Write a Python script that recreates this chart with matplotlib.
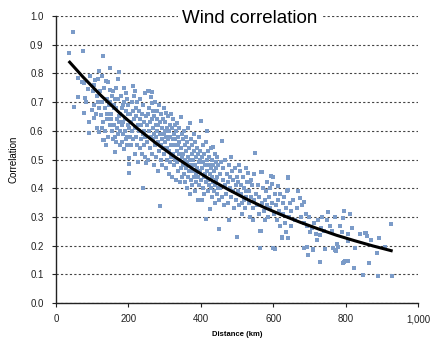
import numpy as np
import matplotlib
matplotlib.use("Agg")
import matplotlib.pyplot as plt
from matplotlib.ticker import FuncFormatter

plt.rcParams['font.family'] = ['Liberation Sans', 'DejaVu Sans']

# Scatter values, split by distance band (km, correlation)
dist_a = [35, 48, 50, 60, 62, 71, 75, 78, 78, 79, 88, 92, 92, 95, 99, 84,
          102, 104, 105, 106, 108, 110, 112, 113, 115, 115, 118, 119, 120, 122, 124, 126, 127, 128,
          129, 130, 131, 132, 133, 135, 136, 138, 138, 140, 141, 142, 144, 145, 147, 148, 149, 149]
corr_a = [.872, .943, .684, .785, .718, .769, .879, .767, .663, .716, .745, .632, .593, .79, .672, .70,
          .74, .69, .643, .76, .777, .66, .72, .61, .78, .701, .68, .595, .81, .74, .655, .609, .70, .79,
          .568, .63, .861, .568, .75, .68, .60, .772, .55, .71, .64, .66, .58, .77, .69, .62, .818, .742]

dist_b = [150, 152, 153, 154, 155, 157, 158, 159, 160, 161, 162, 163, 164, 165, 166, 167, 168, 169,
          170, 171, 172, 173, 174, 175, 176, 177, 178, 179, 180, 181, 182, 183, 184, 185, 186, 187,
          188, 189, 190, 191, 192, 193, 194, 195, 196, 197, 198, 199,
          200, 201, 203, 203, 203, 204, 205, 206, 208, 209, 210, 212, 213, 214, 215, 216, 217, 218,
          219, 220, 221, 222, 224, 225, 226, 227, 228, 230, 231, 232, 233, 234, 236, 237, 238, 239,
          240, 241, 242, 243, 244, 245, 246, 247, 248, 249]
corr_b = [.70, .66, .64, .60, .72, .57, .74, .68, .62, .69, .58, .71, .527, .75, .68, .56, .64, .61,
          .59, .78, .71, .65, .806, .63, .60, .55, .66, .63, .72, .68, .56, .62, .69, .59, .63, .70,
          .75, .535, .60, .64, .67, .73, .57, .58, .71, .55, .62, .66,
          .69, .61, .504, .486, .454, .58, .66, .63, .55, .70, .60, .67, .57, .756, .64, .72, .52, .74,
          .61, .68, .58, .65, .55, .70, .492, .62, .60, .67, .54, .64, .71, .57, .62, .52, .66, .59,
          .69, .402, .55, .63, .60, .73, .51, .58, .65, .489]

dist_c = [251, 252, 253, 254, 255, 256, 257, 258, 259, 260, 262, 263, 264, 264, 265, 266, 267, 268,
          269, 270, 271, 272, 273, 274, 275, 276, 277, 278, 279, 280, 281, 282, 283, 284, 285, 286,
          287, 288, 289, 290, 291, 292, 293, 294, 295, 296, 297, 298, 299, 300,
          301, 302, 303, 304, 305, 306, 307, 308, 309, 310, 311, 312, 313, 314, 315, 316, 317, 318,
          319, 320, 321, 322, 323, 324, 325, 326, 327, 328, 329, 330, 331, 332, 333, 334, 335, 336,
          337, 338, 339, 340, 341, 342, 343, 344, 345, 346, 347, 348, 349, 350]
corr_c = [.62, .56, .74, .66, .50, .74, .60, .68, .54, .63, .717, .58, .736, .696, .52, .64, .57, .61,
          .67, .48, .59, .65, .55, .70, .62, .51, .58, .64, .60, .67, .46, .56, .62, .53, .69, .59,
          .338, .63, .55, .50, .66, .57, .61, .48, .64, .54, .59, .68, .52, .60,
          .56, .63, .47, .663, .58, .54, .61, .50, .65, .57, .45, .60, .53, .62, .49, .58, .66, .55,
          .51, .61, .44, .57, .64, .52, .59, .48, .55, .62, .50, .57, .43, .60, .628, .53, .49, .58,
          .55, .46, .61, .52, .56, .42, .50, .649, .54, .47, .59, .51, .44, .57]

dist_d = [351, 352, 353, 354, 355, 356, 357, 358, 359, 360, 361, 362, 363, 364, 365, 366, 367, 368,
          369, 370, 371, 372, 373, 374, 375, 376, 377, 378, 379, 380, 381, 382, 383, 384, 385, 386,
          387, 388, 389, 390, 391, 392, 393, 394, 395, 396, 397, 398, 399, 400,
          401, 402, 403, 404, 405, 406, 407, 408, 409, 410, 411, 412, 413, 414, 415, 416, 417, 418,
          419, 420, 421, 422, 423, 424, 425, 426, 427, 428, 429, 430, 431, 432, 433, 434, 435, 436,
          437, 438, 439, 440, 441, 442, 443, 444, 445, 446, 447, 448, 449, 450]
corr_d = [.52, .48, .60, .45, .55, .50, .42, .58, .47, .53, .40, .56, .49, .44, .61, .51, .46, .54,
          .38, .626, .50, .43, .57, .48, .52, .41, .55, .46, .50, .59, .44, .53, .39, .48, .56, .45,
          .51, .42, .54, .47, .36, .52, .44, .58, .49, .41, .53, .46, .50, .634,
          .43, .359, .51, .47, .55, .40, .49, .44, .52, .38, .48, .45, .56, .292, .42, .60, .50, .46,
          .39, .53, .43, .48, .41, .51, .326, .45, .54, .40, .47, .37, .50, .44, .42, .545, .48, .39,
          .46, .52, .41, .35, .49, .43, .47, .38, .51, .44, .40, .48, .36, .258]

dist_e = [452, 454, 456, 458, 459, 460, 462, 464, 466, 468, 470, 472, 474, 476, 477, 478, 480, 482,
          483, 484, 486, 488, 490, 492, 494, 496, 498, 499, 500, 501,
          502, 504, 506, 508, 510, 512, 514, 516, 518, 520, 522, 524, 526, 528, 530, 532, 534, 536,
          538, 540, 542, 544, 546, 548, 550, 505, 515, 525, 535, 545]
corr_e = [.45, .40, .49, .37, .564, .43, .47, .34, .41, .50, .38, .45, .42, .35, .289, .48, .40, .44,
          .51, .37, .46, .39, .43, .33, .47, .41, .36, .229, .44, .229,
          .39, .42, .34, .46, .38, .41, .31, .44, .36, .40, .33, .47, .37, .42, .452, .35, .39, .30,
          .43, .37, .41, .33, .45, .36, .524, .48, .35, .39, .42, .29]

dist_f = [552, 555, 558, 560, 562, 564, 564, 565, 566, 568, 570, 572, 574, 576, 578, 580, 582, 584,
          586, 588, 590, 592, 594, 596, 598, 600, 600, 602, 605, 606,
          608, 610, 612, 614, 616, 618, 620, 623, 625, 626, 628, 630, 632, 635, 636, 639, 640, 642,
          642, 642, 644, 646, 648, 650, 655, 660, 665, 669, 673, 678,
          680, 684, 686, 686, 690, 692, 694, 697, 700, 703, 706, 709, 711, 714, 718, 720, 724, 729,
          729, 732]
corr_f = [.38, .34, .41, .31, .37, .251, .193, .458, .251, .457, .35, .40, .32, .36, .29, .39, .34, .42,
          .30, .37, .33, .40, .442, .415, .35, .44, .193, .31, .188, .38,
          .34, .29, .36, .408, .32, .38, .27, .228, .231, .35, .31, .37, .28, .248, .33, .39, .438, .437,
          .394, .225, .30, .35, .27, .32, .36, .29, .33, .39, .365, .30,
          .34, .28, .353, .193, .31, .194, .27, .167, .30, .248, .26, .188, .185, .28, .24, .22, .29, .237,
          .144, .26]

dist_g = [736, 740, 743, 748, 752, 756, 762, 766, 771, 771, 773, 777, 780, 785, 789, 792, 793, 796,
          796, 798, 806, 806, 807, 812, 818, 823, 826, 840, 849, 854, 856, 860, 865, 870, 886, 889,
          893, 909, 925, 929]
corr_g = [.30, .25, .187, .289, .316, .27, .251, .193, .301, .185, .182, .206, .194, .27, .248, .297, .14, .322,
          .144, .147, .239, .146, .216, .309, .26, .123, .193, .239, .098, .243, .243, .235, .138, .22, .173, .095,
          .225, .196, .274, .095]

# Exponential trend line
trend_km = [35, 75, 125, 175, 225, 275, 325, 375, 425, 475, 525, 575, 625, 675, 725, 775, 825, 875, 930]
trend_corr = [.843, .787, .722, .663, .608, .558, .512, .470, .431, .396, .363, .333, .306, .281,
              .258, .236, .217, .199, .181]

dist = dist_a + dist_b + dist_c + dist_d + dist_e + dist_f + dist_g
corr = corr_a + corr_b + corr_c + corr_d + corr_e + corr_f + corr_g

fig = plt.figure(figsize=(4.33, 3.40), dpi=100)
ax = fig.add_axes([56 / 433, 1 - 303 / 340, 362 / 433, 287 / 340])

ax.scatter(dist, corr, marker='s', s=10, color='#7b9bc8', linewidths=0, zorder=2)
ax.plot(trend_km, trend_corr, color='black', lw=2.2, zorder=3, solid_capstyle='butt')

ax.set_xlim(0, 1000)
ax.set_ylim(0, 1.0)
ax.set_xticks(np.arange(0, 1001, 200))
ax.set_yticks(np.arange(0, 1.01, 0.1))
ax.xaxis.set_major_formatter(FuncFormatter(lambda v, p: "{:,.0f}".format(v)))
ax.yaxis.set_major_formatter(FuncFormatter(lambda v, p: "{:.1f}".format(v)))
ax.tick_params(axis='y', length=3, width=0.8, pad=6, labelsize=7, colors='#222222')
ax.tick_params(axis='x', length=3, width=0.8, pad=5, labelsize=7, colors='#222222')

ax.yaxis.grid(True, linestyle=(0, (2, 2)), color='#444444', lw=0.8)
ax.set_axisbelow(True)
for side in ['top', 'right']:
    ax.spines[side].set_visible(False)
for side in ['left', 'bottom']:
    ax.spines[side].set_linewidth(1.0)
    ax.spines[side].set_color('#222222')

ax.set_ylabel("Correlation", fontsize=7, labelpad=8)
ax.set_xlabel("Distance (km)", fontsize=5.5, fontweight='bold', labelpad=5)

ax.text(0.536, 0.9756, "Wind correlation", transform=ax.transAxes, fontsize=13.5,
        ha='center', va='baseline', zorder=5,
        bbox=dict(facecolor='white', edgecolor='none', pad=3))

fig.savefig("out.png", dpi=100)
